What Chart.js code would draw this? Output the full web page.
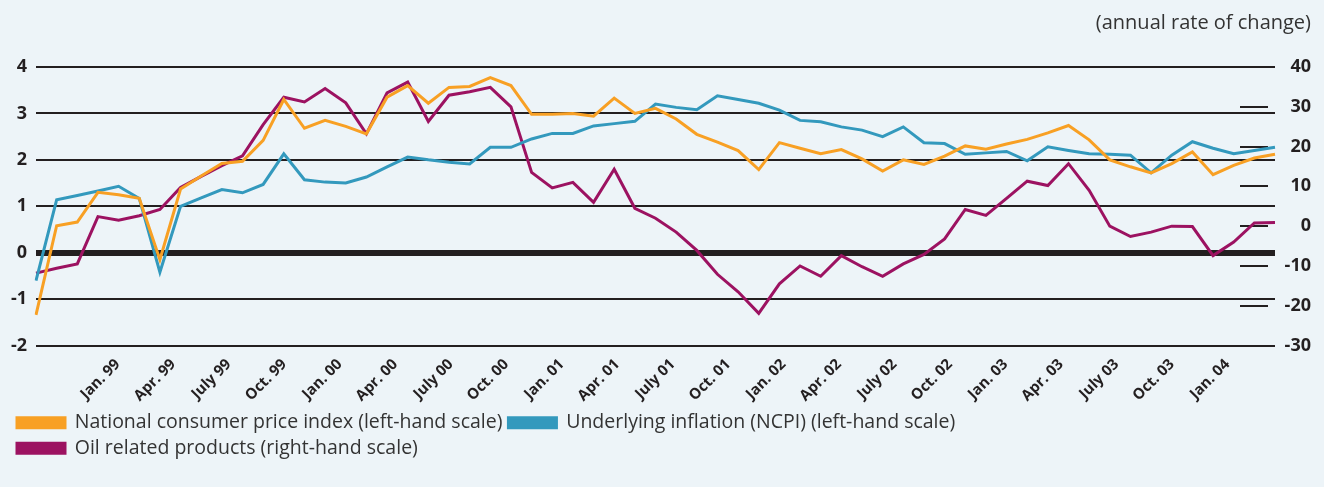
<!DOCTYPE html>
<html>
<head>
<meta charset="utf-8">
<script src="https://cdn.jsdelivr.net/npm/chart.js@4.4.1/dist/chart.umd.min.js"></script>
<style>
  html, body { margin: 0; padding: 0; background: #edf4f8; }
  #wrap { width: 1324px; height: 487px; }
</style>
</head>
<body>
<div id="wrap"><canvas id="inflationChart"></canvas></div>
<script>
// quarter labels on the time axis (months counted from Jan. 99)
const quarterLabels = [
  'Jan. 99', 'Apr. 99', 'July 99', 'Oct. 99',
  'Jan. 00', 'Apr. 00', 'July 00', 'Oct. 00',
  'Jan. 01', 'Apr. 01', 'July 01', 'Oct. 01',
  'Jan. 02', 'Apr. 02', 'July 02', 'Oct. 02',
  'Jan. 03', 'Apr. 03', 'July 03', 'Oct. 03',
  'Jan. 04'
];

// National consumer price index, left-hand scale
const cpi = [
  -1.34, 0.58, 0.66, 1.30, 1.25, 1.17, -0.15, 1.37, 1.65, 1.92,
  1.97, 2.42, 3.30, 2.68, 2.85, 2.72, 2.56, 3.35, 3.60, 3.22,
  3.56, 3.58, 3.77, 3.60, 2.98, 2.98, 3.00, 2.94, 3.33, 3.00,
  3.11, 2.88, 2.55, 2.38, 2.20, 1.79, 2.37, 2.25, 2.13, 2.22,
  2.02, 1.76, 2.00, 1.90, 2.08, 2.30, 2.23, 2.34, 2.44, 2.58,
  2.74, 2.43, 2.00, 1.85, 1.72, 1.92, 2.17, 1.68, 1.88, 2.04,
  2.12
];

// Underlying inflation (NCPI), left-hand scale
const underlying = [
  -0.60, 1.14, 1.23, 1.33, 1.43, 1.17, -0.42, 1.00, 1.18, 1.36,
  1.29, 1.47, 2.13, 1.57, 1.52, 1.50, 1.63, 1.85, 2.06, 2.00,
  1.95, 1.91, 2.27, 2.27, 2.45, 2.57, 2.57, 2.73, 2.78, 2.83,
  3.20, 3.13, 3.08, 3.38, 3.30, 3.22, 3.07, 2.85, 2.82, 2.71,
  2.64, 2.50, 2.71, 2.37, 2.35, 2.12, 2.15, 2.18, 1.98, 2.28,
  2.20, 2.13, 2.12, 2.10, 1.72, 2.10, 2.39, 2.25, 2.13, 2.20,
  2.27
];

// Oil related products, right-hand scale
const oil = [
  -11.8, -10.6, -9.5, 2.4, 1.5, 2.6, 4.2, 9.7, 12.5, 15.2,
  17.7, 25.5, 32.4, 31.2, 34.6, 31.0, 23.2, 33.5, 36.2, 26.3,
  32.9, 33.8, 34.9, 30.0, 13.5, 9.6, 11.0, 6.0, 14.3, 4.5,
  2.0, -1.5, -6.1, -12.1, -16.5, -21.9, -14.5, -10.0, -12.6, -7.4,
  -10.2, -12.6, -9.5, -7.1, -3.2, 4.2, 2.7, 7.0, 11.3, 10.2,
  15.7, 9.0, 0.0, -2.6, -1.5, 0.0, -0.1, -7.4, -4.0, 0.8,
  0.9
];

const ink = '#231f20';
const fontFamily = '"Open Sans", "Noto Sans", sans-serif';

// short tick dashes of the right-hand scale, drawn inside the plot
const rightTickDashes = {
  id: 'rightTickDashes',
  beforeDatasetsDraw(chart) {
    const { ctx, chartArea, scales } = chart;
    const y2 = scales.y2;
    ctx.save();
    ctx.strokeStyle = ink;
    ctx.lineWidth = 2;
    y2.ticks.forEach(t => {
      const y = Math.round(y2.getPixelForValue(t.value));
      ctx.beginPath();
      ctx.moveTo(chartArea.right - 35, y);
      ctx.lineTo(chartArea.right - 7, y);
      ctx.stroke();
    });
    ctx.restore();
  }
};

const ctx = document.getElementById('inflationChart').getContext('2d');

new Chart(ctx, {
  type: 'line',
  data: {
    labels: cpi.map((_, i) => i),
    datasets: [
      {
        label: 'National consumer price index (left-hand scale)',
        data: cpi,
        borderColor: '#f8a024',
        backgroundColor: '#f8a024',
        yAxisID: 'y'
      },
      {
        label: 'Underlying inflation (NCPI) (left-hand scale)',
        data: underlying,
        borderColor: '#3399bd',
        backgroundColor: '#3399bd',
        yAxisID: 'y'
      },
      {
        label: 'Oil related products (right-hand scale)',
        data: oil,
        borderColor: '#9c1261',
        backgroundColor: '#9c1261',
        yAxisID: 'y2'
      }
    ]
  },
  options: {
    responsive: true,
    maintainAspectRatio: false,
    animation: false,
    layout: {
      padding: { top: 9, left: 11, right: 13, bottom: 19 }
    },
    elements: {
      line: { borderWidth: 3, tension: 0 },
      point: { radius: 0 }
    },
    plugins: {
      tooltip: { enabled: false },
      title: {
        display: true,
        text: '(annual rate of change)',
        align: 'end',
        color: '#333333',
        font: { family: fontFamily, size: 20, weight: 'normal' },
        padding: { top: 2, bottom: 32 }
      },
      legend: {
        position: 'bottom',
        align: 'start',
        labels: {
          boxWidth: 48,
          boxHeight: 10,
          padding: 6,
          color: '#333333',
          font: { family: fontFamily, size: 19.5 }
        }
      }
    },
    scales: {
      x: {
        type: 'category',
        display: false
      },
      months: {
        type: 'linear',
        position: 'bottom',
        min: -4.43,
        max: 62.57,
        grid: { display: false },
        border: { display: false },
        afterBuildTicks: scale => {
          scale.ticks = quarterLabels.map((_, i) => ({ value: i * 3 }));
        },
        ticks: {
          autoSkip: false,
          minRotation: 45,
          maxRotation: 45,
          padding: 2,
          color: ink,
          font: { family: fontFamily, size: 15, weight: 'bold' },
          callback: value => quarterLabels[value / 3]
        }
      },
      y: {
        position: 'left',
        min: -2,
        max: 4,
        afterFit: scale => { scale.width = 25; },
        border: { display: false },
        grid: {
          drawTicks: false,
          color: ink,
          lineWidth: c => (c.tick && c.tick.value === 0 ? 6 : 2)
        },
        ticks: {
          stepSize: 1,
          padding: 9,
          color: ink,
          font: { family: fontFamily, size: 18, weight: 'bold' }
        }
      },
      y2: {
        position: 'right',
        min: -30,
        max: 40,
        afterFit: scale => { scale.width = 36; },
        border: { display: false },
        grid: { drawOnChartArea: false, drawTicks: false },
        ticks: {
          stepSize: 10,
          padding: 8,
          crossAlign: 'far',
          color: ink,
          font: { family: fontFamily, size: 18, weight: 'bold' }
        }
      }
    }
  },
  plugins: [rightTickDashes]
});
</script>
</body>
</html>
